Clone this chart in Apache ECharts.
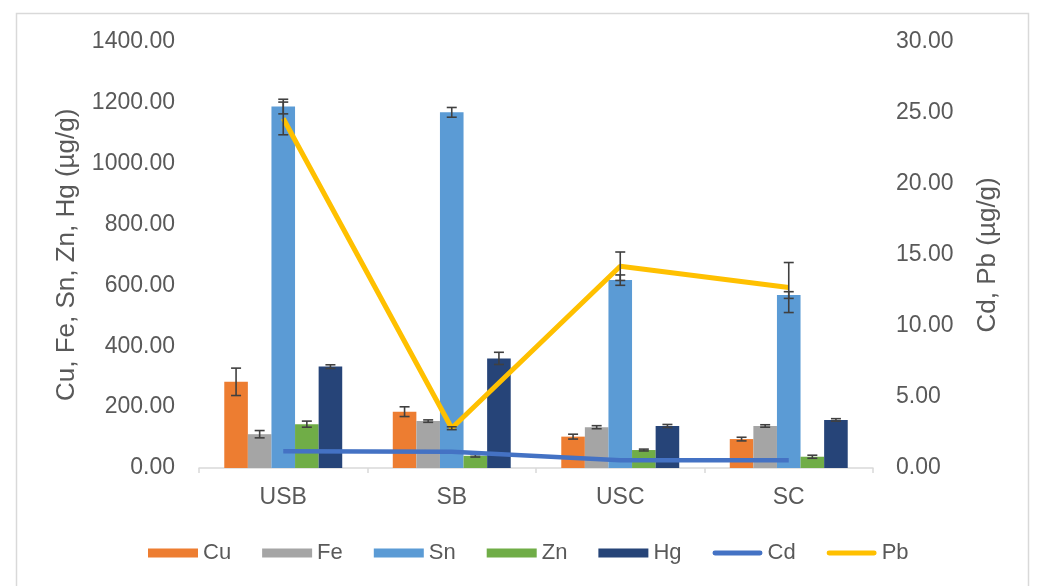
<!DOCTYPE html>
<html><head><meta charset="utf-8">
<script src="https://cdn.jsdelivr.net/npm/echarts@6/dist/echarts.min.js"></script>
<style>html,body{margin:0;padding:0;background:#fff}#c{width:1037px;height:586px}</style>
</head><body><div id="c"></div>
<script>
var categories = ['USB', 'SB', 'USC', 'SC'];
var leftTicks = [0, 200, 400, 600, 800, 1000, 1200, 1400];
var rightTicks = [0, 5, 10, 15, 20, 25, 30];
var cu = [283, 185, 103, 95];
var cuErr = [45, 16, 8, 6];
var fe = [111, 154, 134, 138];
var feErr = [12, 4, 5, 4];
var sn = [1187, 1168, 617, 568];
var snErr = [24, 16, 17, 11];
var zn = [144, 40, 59, 37];
var znErr = [10, 4, 3, 5];
var hg = [333, 360, 138, 158];
var hgErr = [6, 20, 5, 4];
var cd = [1.18, 1.15, 0.55, 0.55];
var pb = [24.6, 2.8, 14.2, 12.7];
var pbErr = [1.15, 0.1, 1.0, 1.76];

var barNames = ['Cu', 'Fe', 'Sn', 'Zn', 'Hg'];
var barVals = [cu, fe, sn, zn, hg];
var barErrs = [cuErr, feErr, snErr, znErr, hgErr];
var barColors = ['#ED7D31', '#A5A5A5', '#5B9BD5', '#70AD47', '#264478'];
var txt = '#595959';
var errColor = '#404040';
var font = 'Liberation Sans, Arial, sans-serif';

function errRenderer(slot, nSlots) {
  return function (params, api) {
    var k = api.value(0), v = api.value(1), e = api.value(2);
    var c = api.coord([k, v]);
    var band = api.size([1, 0])[0];
    var x = c[0];
    if (nSlots > 0) {
      var bw = band * 0.7 / nSlots;
      x = c[0] + (slot - (nSlots - 1) / 2) * bw;
    }
    var yt = api.coord([k, v + e])[1];
    var yb = api.coord([k, v - e])[1];
    var cap = 5;
    var st = { stroke: errColor, lineWidth: 1.6 };
    return {
      type: 'group',
      children: [
        { type: 'line', shape: { x1: x, y1: yt, x2: x, y2: yb }, style: st },
        { type: 'line', shape: { x1: x - cap, y1: yt, x2: x + cap, y2: yt }, style: st },
        { type: 'line', shape: { x1: x - cap, y1: yb, x2: x + cap, y2: yb }, style: st }
      ]
    };
  };
}

var series = [];
barNames.forEach(function (n, i) {
  series.push({
    name: n, type: 'bar', data: barVals[i], yAxisIndex: 0,
    barGap: '0%', barCategoryGap: '30%',
    itemStyle: { color: barColors[i] }, z: 2
  });
});
barNames.forEach(function (n, i) {
  series.push({
    name: n + ' err', type: 'custom', yAxisIndex: 0, z: 3,
    renderItem: errRenderer(i, 5),
    encode: { x: 0, y: 1 },
    data: barVals[i].map(function (v, k) { return [k, v, barErrs[i][k]]; }),
    silent: true
  });
});
series.push({
  name: 'Cd', type: 'line', yAxisIndex: 1, data: cd, showSymbol: false, symbol: 'none',
  lineStyle: { color: '#4472C4', width: 4.5 }, itemStyle: { color: '#4472C4' }, z: 4
});
series.push({
  name: 'Pb', type: 'line', yAxisIndex: 1, data: pb, showSymbol: false, symbol: 'none',
  lineStyle: { color: '#FFC000', width: 5 }, itemStyle: { color: '#FFC000' }, z: 4
});
series.push({
  name: 'Pb err', type: 'custom', yAxisIndex: 1, z: 5,
  renderItem: errRenderer(0, 0),
  encode: { x: 0, y: 1 },
  data: pb.map(function (v, k) { return [k, v, pbErr[k]]; }),
  silent: true
});

var lineIcon = 'path://M2,0 L48,0 A2.5,2.5 0 0 1 48,5 L2,5 A2.5,2.5 0 0 1 2,0 Z';
var legendData = barNames.map(function (n) { return { name: n, icon: 'rect' }; });
legendData.push({ name: 'Cd', icon: lineIcon });
legendData.push({ name: 'Pb', icon: lineIcon });

var chart = echarts.init(document.getElementById('c'), null, { renderer: 'canvas' });
chart.setOption({
  animation: false,
  backgroundColor: '#ffffff',
  textStyle: { fontFamily: font },
  graphic: [{
    type: 'rect', left: 14, top: 11, silent: true,
    shape: { width: 1012, height: 600 },
    style: { fill: 'none', stroke: '#d9d9d9', lineWidth: 1.5 }
  }],
  grid: { left: 199, right: 164, top: 41.7, bottom: 118, containLabel: false },
  legend: {
    left: 143, top: 537, itemWidth: 50, itemHeight: 9, itemGap: 31,
    data: legendData,
    textStyle: { color: txt, fontSize: 22, fontFamily: font }
  },
  xAxis: {
    type: 'category', data: categories, boundaryGap: true,
    axisLine: { lineStyle: { color: '#d9d9d9', width: 1.5 } },
    axisTick: { show: true, alignWithLabel: false, length: 5, lineStyle: { color: '#d9d9d9', width: 1.5 } },
    axisLabel: { color: txt, fontSize: 23, margin: 18, fontFamily: font }
  },
  yAxis: [{
    type: 'value', min: leftTicks[0], max: leftTicks[leftTicks.length - 1], interval: leftTicks[1] - leftTicks[0],
    name: 'Cu, Fe, Sn, Zn, Hg (µg/g)', nameLocation: 'middle', nameGap: 119,
    nameTextStyle: { color: txt, fontSize: 26, fontFamily: font },
    axisLine: { show: false }, axisTick: { show: false }, splitLine: { show: false },
    axisLabel: { color: txt, fontSize: 23, margin: 24, fontFamily: font, formatter: function (v) { return v.toFixed(2); } }
  }, {
    type: 'value', min: rightTicks[0], max: rightTicks[rightTicks.length - 1], interval: rightTicks[1] - rightTicks[0],
    position: 'right',
    name: 'Cd, Pb (µg/g)', nameLocation: 'middle', nameGap: 102,
    nameTextStyle: { color: txt, fontSize: 26, fontFamily: font },
    axisLine: { show: false }, axisTick: { show: false }, splitLine: { show: false },
    axisLabel: { color: txt, fontSize: 23, margin: 23, fontFamily: font, formatter: function (v) { return v.toFixed(2); } }
  }],
  series: series
});
</script>
</body></html>
